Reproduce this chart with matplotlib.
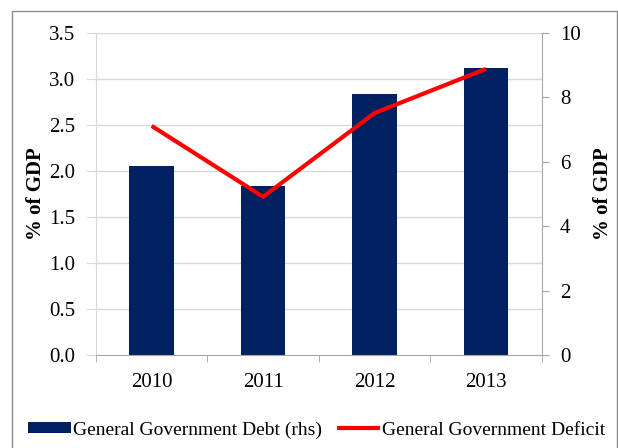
import matplotlib
matplotlib.use("Agg")
import matplotlib.pyplot as plt
from matplotlib.patches import Rectangle
import numpy as np

years = ["2010", "2011", "2012", "2013"]
debt = [5.88, 5.25, 8.10, 8.91]      # rhs, bars
deficit = [2.49, 1.72, 2.63, 3.11]   # lhs, line

plt.rcParams['font.family'] = ['Liberation Serif', 'DejaVu Serif']

fig = plt.figure(figsize=(6.18, 4.48), dpi=100)
ax = fig.add_axes([96/618, 93/448, (541.7-96)/618, (355-33)/448])
ax2 = ax.twinx()

x = np.arange(len(years))
ax2.bar(x, debt, width=0.4, color='#002060', zorder=2, label='General Government Debt (rhs)')
ax.plot(x, deficit, color='#ff0000', lw=3, zorder=5, label='General Government Deficit',
        solid_capstyle='butt')

ax.set_zorder(ax2.get_zorder() + 1)
ax.patch.set_visible(False)

ax.set_xlim(-0.5, 3.5)
ax.set_ylim(0, 3.5)
ax2.set_ylim(0, 10)
ax.set_yticks(np.arange(0, 3.51, 0.5))
ax.set_yticklabels([f"{v:.1f}" for v in np.arange(0, 3.51, 0.5)])
ax2.set_yticks(np.arange(0, 10.1, 2))

grid_c = '#d9d9d9'
ax2.yaxis.grid(False)
for v in np.arange(0.5, 3.51, 0.5):
    ax2.axhline(v / 3.5 * 10, color=grid_c, lw=1, zorder=0)

for a in (ax, ax2):
    a.spines['top'].set_visible(False)
ax.spines['right'].set_visible(False)
ax2.spines['left'].set_visible(False)
ax2.spines['bottom'].set_visible(False)
ax.spines['left'].set_color(grid_c)
ax.spines['bottom'].set_color('#a6a6a6')
ax2.spines['right'].set_color('#a6a6a6')

ax.set_xticks(x)
ax.set_xticklabels(years)
ax.set_xticks(np.arange(-0.5, 3.6, 1), minor=True)
ax.tick_params(axis='x', which='major', length=0, labelsize=15, pad=13)
ax.tick_params(axis='x', which='minor', length=5, color='#a6a6a6')
ax.tick_params(axis='y', length=7, color=grid_c, labelsize=15, pad=8)
ax2.tick_params(axis='y', length=5, color='#a6a6a6', labelsize=15, pad=8)

ax.set_ylabel('% of GDP', fontsize=15, fontweight='bold', labelpad=2)
ax2.set_ylabel('% of GDP', fontsize=15, fontweight='bold', labelpad=9)

h1, l1 = ax2.get_legend_handles_labels()
h2, l2 = ax.get_legend_handles_labels()
leg = fig.legend(h1 + h2, l1 + l2, loc='center', bbox_to_anchor=(0.512, 1 - 430/448),
                 ncol=2, frameon=False, fontsize=14, handlelength=2.2, handleheight=0.5,
                 handletextpad=0.1, columnspacing=0.8)

fig.patches.append(Rectangle((12/618, -0.1), (617.3-12)/618, 1.1 - 11/448,
                             transform=fig.transFigure, fill=False,
                             edgecolor='#8c8c8c', lw=1))

fig.savefig('out.png', dpi=100)
